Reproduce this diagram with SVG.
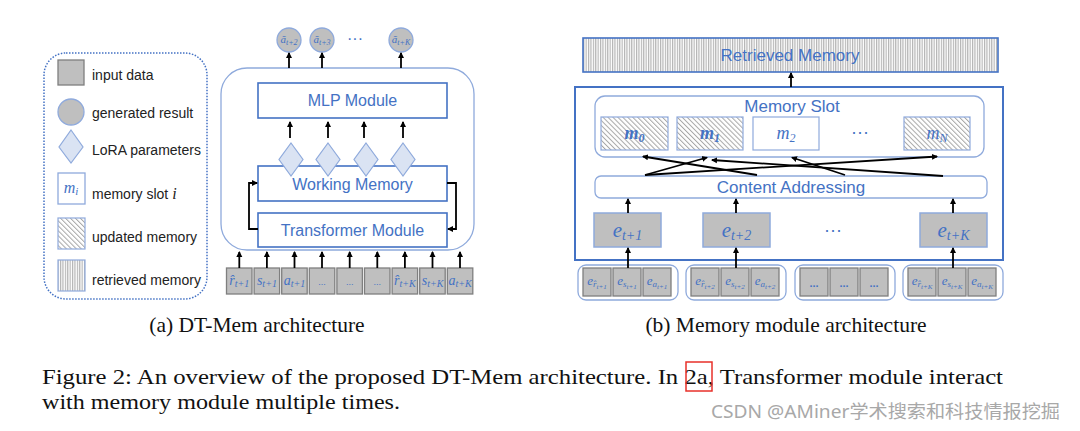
<svg xmlns="http://www.w3.org/2000/svg" width="1080" height="431" viewBox="0 0 1080 431">
<defs>
<style>
.lt{font-family:"Liberation Sans",Arial,sans-serif;font-size:14px;fill:#222}
.bt{font-family:"Liberation Sans",Arial,sans-serif;fill:#4472C4;text-anchor:middle}
.m{font-family:"Liberation Serif","DejaVu Serif",serif;font-style:italic;fill:#4472C4;text-anchor:middle}
.cap{font-family:"Liberation Serif","Times New Roman",serif;fill:#111}
.gbox{fill:#BFBFBF;stroke:#7F7F7F;stroke-width:1.3}
.ebox{fill:#BFBFBF;stroke:#8FAADC;stroke-width:1.5}
.mod{fill:#fff;stroke:#4472C4;stroke-width:1.6}
.soft{fill:#fff;stroke:#8FAADC;stroke-width:1.3}
.ar{stroke:#000;stroke-width:1.8;fill:none;marker-end:url(#ah)}
.dia{fill:#DAE3F3;stroke:#8FAADC;stroke-width:1.2}
.circ{fill:#BFBFBF;stroke:#8FAADC;stroke-width:1.3}
</style>
<marker id="ah" markerWidth="7" markerHeight="7" refX="5" refY="3.5" orient="auto" markerUnits="userSpaceOnUse"><path d="M0,0.5 L6,3.5 L0,6.5 z" fill="#000"/></marker>
<pattern id="diag" width="3.5" height="3.5" patternUnits="userSpaceOnUse" patternTransform="rotate(-45)"><rect width="3.5" height="3.5" fill="#fff"/><line x1="0.5" y1="0" x2="0.5" y2="3.5" stroke="#A6A6A6" stroke-width="1"/></pattern>
<pattern id="vert" width="2.4" height="10" patternUnits="userSpaceOnUse"><rect width="2.4" height="10" fill="#fff"/><line x1="0.6" y1="0" x2="0.6" y2="10" stroke="#A6A6A6" stroke-width="1"/></pattern>
</defs>

<!-- Legend -->
<g id="legend">
<rect x="44" y="53" width="163" height="246" rx="22" fill="none" stroke="#4472C4" stroke-width="1.5" stroke-dasharray="1.5 1.5"/>
<rect x="58" y="60" width="26" height="25" class="gbox"/>
<text x="92" y="80" class="lt">input data</text>
<circle cx="71" cy="112" r="13" class="circ" stroke="#7F7F7F"/>
<text x="92" y="118" class="lt">generated result</text>
<polygon points="71,130 83,147 71,163 59,147" class="dia"/>
<text x="92" y="155" class="lt">LoRA parameters</text>
<rect x="58" y="173" width="27" height="31" class="soft"/>
<text x="71" y="193" class="m" font-size="16">m<tspan font-size="11" dy="2">i</tspan></text>
<text x="92" y="199" class="lt">memory slot <tspan font-family="Liberation Serif,serif" font-style="italic" font-size="16">i</tspan></text>
<rect x="58" y="218" width="27" height="31" fill="url(#diag)" stroke="#8FAADC" stroke-width="1.2"/>
<text x="92" y="242" class="lt">updated memory</text>
<rect x="58" y="260" width="27" height="31" fill="url(#vert)" stroke="#8FAADC" stroke-width="1.2"/>
<text x="92" y="285" class="lt">retrieved memory</text>
</g>

<!-- Panel (a) -->
<g id="dtmem">
<rect x="221" y="68" width="253" height="182" rx="26" fill="#fff" stroke="#8FAADC" stroke-width="1.3"/>
</g>
<g id="mlp">
<rect x="258" y="83" width="189" height="35" class="mod"/>
<text x="352.5" y="106" class="bt" font-size="16">MLP Module</text>
</g>
<g id="working-memory">
<rect x="258" y="166" width="189" height="35" class="mod"/>
<text x="352.5" y="189.5" class="bt" font-size="16">Working Memory</text>
</g>
<g id="transformer">
<rect x="258" y="213" width="189" height="34" class="mod"/>
<text x="352.5" y="236" class="bt" font-size="16">Transformer Module</text>
</g>
<g id="lora">
<polygon points="291,143 303,159.5 291,176 279,159.5" class="dia"/>
<polygon points="328,143 340,159.5 328,176 316,159.5" class="dia"/>
<polygon points="366,143 378,159.5 366,176 354,159.5" class="dia"/>
<polygon points="403,143 415,159.5 403,176 391,159.5" class="dia"/>
</g>
<g id="outputs">
<circle cx="289" cy="40" r="12" class="circ"/>
<text x="289" y="43" class="m" font-size="11">ã<tspan font-size="8" dy="2">t+2</tspan></text>
<circle cx="322" cy="40" r="12" class="circ"/>
<text x="322" y="43" class="m" font-size="11">ã<tspan font-size="8" dy="2">t+3</tspan></text>
<text x="355" y="44" class="bt" font-size="16">···</text>
<circle cx="401" cy="40" r="12" class="circ"/>
<text x="401" y="43" class="m" font-size="11">ã<tspan font-size="8" dy="2">t+K</tspan></text>
</g>
<g id="inputs-a">
<rect x="226.5" y="268" width="25.5" height="26" class="gbox"/>
<text x="239.3" y="285" class="m" font-size="14">r̂<tspan font-size="10" dy="2">t+1</tspan></text>
<rect x="254.1" y="268" width="25.5" height="26" class="gbox"/>
<text x="266.9" y="285" class="m" font-size="14">s<tspan font-size="10" dy="2">t+1</tspan></text>
<rect x="281.7" y="268" width="25.5" height="26" class="gbox"/>
<text x="294.5" y="285" class="m" font-size="14">a<tspan font-size="10" dy="2">t+1</tspan></text>
<rect x="309.3" y="268" width="25.5" height="26" class="gbox"/>
<text x="322" y="285" class="bt" font-size="9">...</text>
<rect x="336.9" y="268" width="25.5" height="26" class="gbox"/>
<text x="349.7" y="285" class="bt" font-size="9">...</text>
<rect x="364.5" y="268" width="25.5" height="26" class="gbox"/>
<text x="377.3" y="285" class="bt" font-size="9">...</text>
<rect x="392.1" y="268" width="25.5" height="26" class="gbox"/>
<text x="404.9" y="285" class="m" font-size="14">r̂<tspan font-size="10" dy="2">t+K</tspan></text>
<rect x="419.7" y="268" width="25.5" height="26" class="gbox"/>
<text x="432.5" y="285" class="m" font-size="14">s<tspan font-size="10" dy="2">t+K</tspan></text>
<rect x="447.3" y="268" width="25.5" height="26" class="gbox"/>
<text x="460" y="285" class="m" font-size="14">a<tspan font-size="10" dy="2">t+K</tspan></text>
</g>

<!-- Panel (b) -->
<g id="retrieved">
<rect x="583" y="38" width="415" height="34" fill="url(#vert)" stroke="#4472C4" stroke-width="1.6"/>
<text x="790" y="61" class="bt" font-size="17">Retrieved Memory</text>
</g>
<g id="memory-module">
<rect x="575" y="87" width="428" height="173" fill="#fff" stroke="#4472C4" stroke-width="2"/>
</g>
<g id="memory-slot">
<rect x="595" y="96" width="389" height="61" rx="10" class="soft"/>
<text x="792" y="112" class="bt" font-size="17">Memory Slot</text>
<rect x="601" y="117" width="67" height="33" fill="url(#diag)" stroke="#8FAADC" stroke-width="1.2"/>
<text x="634.5" y="139" class="m" font-size="18" font-weight="bold">m<tspan font-size="12" dy="3">0</tspan></text>
<rect x="677" y="117" width="66" height="33" fill="url(#diag)" stroke="#8FAADC" stroke-width="1.2"/>
<text x="710" y="139" class="m" font-size="18" font-weight="bold">m<tspan font-size="12" dy="3">1</tspan></text>
<rect x="753" y="117" width="66" height="33" fill="#fff" stroke="#8FAADC" stroke-width="1.2"/>
<text x="786" y="139" class="m" font-size="18">m<tspan font-size="12" dy="3">2</tspan></text>
<text x="860" y="138" class="bt" font-size="18">···</text>
<rect x="904" y="117" width="66" height="33" fill="url(#diag)" stroke="#8FAADC" stroke-width="1.2"/>
<text x="937" y="139" class="m" font-size="18">m<tspan font-size="12" dy="3">N</tspan></text>
</g>
<g id="content-addressing">
<rect x="595" y="176" width="392" height="22" rx="6" class="soft"/>
<text x="791" y="193" class="bt" font-size="17">Content Addressing</text>
</g>
<g id="embeddings">
<rect x="594" y="213" width="67" height="34" class="ebox"/>
<text x="627.5" y="237" class="m" font-size="21">e<tspan font-size="14" dy="3">t+1</tspan></text>
<rect x="703" y="213" width="67" height="34" class="ebox"/>
<text x="736.5" y="237" class="m" font-size="21">e<tspan font-size="14" dy="3">t+2</tspan></text>
<text x="833" y="236" class="bt" font-size="18">···</text>
<rect x="920" y="213" width="67" height="34" class="ebox"/>
<text x="953.5" y="237" class="m" font-size="21">e<tspan font-size="14" dy="3">t+K</tspan></text>
</g>
<g id="inputs-b">
<rect x="578" y="265" width="100" height="35" rx="8" class="soft"/>
<rect x="583" y="268" width="28" height="28" class="gbox" stroke="#595959"/>
<text x="597" y="285" class="m" font-size="13">e<tspan font-size="9" dy="2">r̂</tspan><tspan font-size="7" dy="2">t+1</tspan></text>
<rect x="613" y="268" width="28" height="28" class="gbox" stroke="#595959"/>
<text x="627" y="285" class="m" font-size="13">e<tspan font-size="9" dy="2">s</tspan><tspan font-size="7" dy="2">t+1</tspan></text>
<rect x="643" y="268" width="28" height="28" class="gbox" stroke="#595959"/>
<text x="657" y="285" class="m" font-size="13">e<tspan font-size="9" dy="2">a</tspan><tspan font-size="7" dy="2">t+1</tspan></text>

<rect x="686" y="265" width="100" height="35" rx="8" class="soft"/>
<rect x="691" y="268" width="28" height="28" class="gbox" stroke="#595959"/>
<text x="705" y="285" class="m" font-size="13">e<tspan font-size="9" dy="2">r̂</tspan><tspan font-size="7" dy="2">t+2</tspan></text>
<rect x="721" y="268" width="28" height="28" class="gbox" stroke="#595959"/>
<text x="735" y="285" class="m" font-size="13">e<tspan font-size="9" dy="2">s</tspan><tspan font-size="7" dy="2">t+2</tspan></text>
<rect x="751" y="268" width="28" height="28" class="gbox" stroke="#595959"/>
<text x="765" y="285" class="m" font-size="13">e<tspan font-size="9" dy="2">a</tspan><tspan font-size="7" dy="2">t+2</tspan></text>

<rect x="795" y="265" width="100" height="35" rx="8" class="soft"/>
<rect x="800" y="268" width="28" height="28" class="gbox" stroke="#595959"/>
<text x="814" y="287" class="bt" font-size="11" font-weight="bold">...</text>
<rect x="830" y="268" width="28" height="28" class="gbox" stroke="#595959"/>
<text x="844" y="287" class="bt" font-size="11" font-weight="bold">...</text>
<rect x="860" y="268" width="28" height="28" class="gbox" stroke="#595959"/>
<text x="874" y="287" class="bt" font-size="11" font-weight="bold">...</text>

<rect x="903" y="265" width="100" height="35" rx="8" class="soft"/>
<rect x="908" y="268" width="28" height="28" class="gbox" stroke="#595959"/>
<text x="922" y="285" class="m" font-size="13">e<tspan font-size="9" dy="2">r̂</tspan><tspan font-size="7" dy="2">t+K</tspan></text>
<rect x="938" y="268" width="28" height="28" class="gbox" stroke="#595959"/>
<text x="952" y="285" class="m" font-size="13">e<tspan font-size="9" dy="2">s</tspan><tspan font-size="7" dy="2">t+K</tspan></text>
<rect x="968" y="268" width="28" height="28" class="gbox" stroke="#595959"/>
<text x="982" y="285" class="m" font-size="13">e<tspan font-size="9" dy="2">a</tspan><tspan font-size="7" dy="2">t+K</tspan></text>
</g>

<!-- Connectors -->
<g id="connectors">
<line x1="289" y1="68" x2="289" y2="53" class="ar"/>
<line x1="322" y1="68" x2="322" y2="53" class="ar"/>
<line x1="401" y1="68" x2="401" y2="53" class="ar"/>
<line x1="290" y1="138" x2="290" y2="122" class="ar"/>
<line x1="328" y1="138" x2="328" y2="122" class="ar"/>
<line x1="364" y1="138" x2="364" y2="122" class="ar"/>
<line x1="403" y1="138" x2="403" y2="122" class="ar"/>
<polyline points="258,229 249,229 249,183 257,183" class="ar"/>
<polyline points="447,183 456,183 456,229 448,229" class="ar"/>
<line x1="239.3" y1="268" x2="239.3" y2="252" class="ar"/>
<line x1="266.9" y1="268" x2="266.9" y2="252" class="ar"/>
<line x1="294.5" y1="268" x2="294.5" y2="252" class="ar"/>
<line x1="322" y1="268" x2="322" y2="252" class="ar"/>
<line x1="349.7" y1="268" x2="349.7" y2="252" class="ar"/>
<line x1="377.3" y1="268" x2="377.3" y2="252" class="ar"/>
<line x1="404.9" y1="268" x2="404.9" y2="252" class="ar"/>
<line x1="432.5" y1="268" x2="432.5" y2="252" class="ar"/>
<line x1="460" y1="268" x2="460" y2="252" class="ar"/>
<line x1="791" y1="87" x2="791" y2="73" class="ar"/>
<line x1="645" y1="175" x2="707" y2="157.5" class="ar"/>
<line x1="645" y1="175" x2="937" y2="156.5" class="ar"/>
<line x1="757" y1="175" x2="643" y2="156.5" class="ar"/>
<line x1="845" y1="175" x2="792" y2="157.5" class="ar"/>
<line x1="943" y1="176" x2="712" y2="160" class="ar"/>
<line x1="628" y1="213" x2="628" y2="199" class="ar"/>
<line x1="736" y1="213" x2="736" y2="199" class="ar"/>
<line x1="953" y1="213" x2="953" y2="199" class="ar"/>
<line x1="628" y1="268" x2="628" y2="248" class="ar"/>
<line x1="736" y1="268" x2="736" y2="248" class="ar"/>
<line x1="953" y1="268" x2="953" y2="248" class="ar"/>
</g>

<!-- Captions -->
<g id="captions">
<text x="257" y="332" class="cap" font-size="21.5" text-anchor="middle">(a) DT-Mem architecture</text>
<text x="786" y="332" class="cap" font-size="21.5" text-anchor="middle">(b) Memory module architecture</text>
<text x="42" y="384" class="cap" font-size="21.5" textLength="961" lengthAdjust="spacingAndGlyphs">Figure 2: An overview of the proposed DT-Mem architecture. In 2a, Transformer module interact</text>
<rect x="686" y="362" width="26" height="29" fill="none" stroke="#E8302A" stroke-width="1.5"/>
<text x="42" y="409" class="cap" font-size="21.5" textLength="358" lengthAdjust="spacingAndGlyphs">with memory module multiple times.</text>
<text x="711" y="418" font-family="'Noto Sans','Noto Sans CJK SC',sans-serif" font-size="18" fill="#A8A8A8" textLength="349" lengthAdjust="spacingAndGlyphs">CSDN @AMiner学术搜索和科技情报挖掘</text>
</g>
</svg>
